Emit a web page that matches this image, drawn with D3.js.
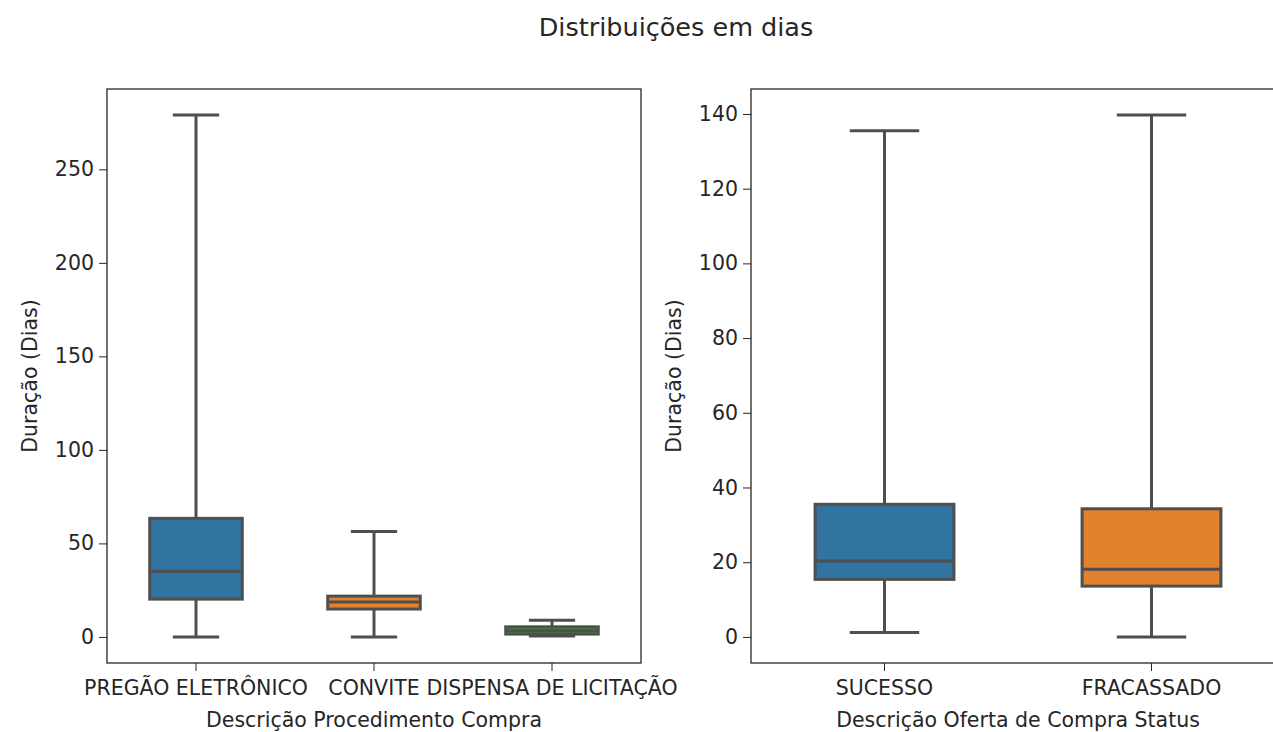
<!DOCTYPE html>
<html>
<head>
<meta charset="utf-8">
<script src="https://cdn.jsdelivr.net/npm/d3@7"></script>
<style>
  body { margin: 0; background: #fff; }
  text { font-family: "DejaVu Sans", sans-serif; fill: #262626; }
</style>
</head>
<body>
<div id="chart"></div>
<script>
var width = 1273;
var height = 732;

// Left panel data: procedimento de compra
var procCategories = ["PREGÃO ELETRÔNICO", "CONVITE", "DISPENSA DE LICITAÇÃO"];
var procMin = [0, 0, 0.5];
var procQ1 = [20.2, 14.9, 1.5];
var procMedian = [35.1, 18.6, 3.3];
var procQ3 = [63.4, 21.8, 5.4];
var procMax = [279, 56.4, 8.9];
var procColors = ["#3274a1", "#e1812c", "#3a923a"];
var procTicks = [0, 50, 100, 150, 200, 250];

// Right panel data: status da oferta
var statusCategories = ["SUCESSO", "FRACASSADO"];
var statusMin = [1.2, 0];
var statusQ1 = [15.4, 13.6];
var statusMedian = [20.3, 18.1];
var statusQ3 = [35.5, 34.3];
var statusMax = [135.5, 139.7];
var statusColors = ["#3274a1", "#e1812c"];
var statusTicks = [0, 20, 40, 60, 80, 100, 120, 140];

var lineColor = "#4f4f4f";
var fontSize = 20.5;

//Instantiate the container
var svg = d3.select("#chart")
    .append("svg")
    .attr("width", width)
    .attr("height", height);

//Title
svg.append("text")
    .attr("x", 676)
    .attr("y", 36)
    .attr("text-anchor", "middle")
    .attr("font-size", 25.5)
    .text("Distribuições em dias");

function drawPanel(opt) {
    var g = svg.append("g");

    var lo = d3.min(opt.min), hi = d3.max(opt.max);
    var pad = (hi - lo) * 0.05;

    var x = d3.scaleBand()
        .domain(opt.categories)
        .range([opt.left, opt.right]);

    var y = d3.scaleLinear()
        .domain([lo - pad, hi + pad])
        .range([opt.bottom, opt.top]);

    var boxW = x.bandwidth() * 0.52;
    var capW = boxW * 0.5;

    for (var i = 0; i < opt.categories.length; i++) {
        var cx = x(opt.categories[i]) + x.bandwidth() / 2;

        //whiskers
        g.append("line")
            .attr("x1", cx).attr("x2", cx)
            .attr("y1", y(opt.q3[i])).attr("y2", y(opt.max[i]))
            .attr("stroke", lineColor).attr("stroke-width", 3);
        g.append("line")
            .attr("x1", cx).attr("x2", cx)
            .attr("y1", y(opt.q1[i])).attr("y2", y(opt.min[i]))
            .attr("stroke", lineColor).attr("stroke-width", 3);

        //caps
        g.append("line")
            .attr("x1", cx - capW / 2).attr("x2", cx + capW / 2)
            .attr("y1", y(opt.max[i])).attr("y2", y(opt.max[i]))
            .attr("stroke", lineColor).attr("stroke-width", 3);
        g.append("line")
            .attr("x1", cx - capW / 2).attr("x2", cx + capW / 2)
            .attr("y1", y(opt.min[i])).attr("y2", y(opt.min[i]))
            .attr("stroke", lineColor).attr("stroke-width", 3);

        //box
        g.append("rect")
            .attr("x", cx - boxW / 2)
            .attr("y", y(opt.q3[i]))
            .attr("width", boxW)
            .attr("height", y(opt.q1[i]) - y(opt.q3[i]))
            .attr("fill", opt.colors[i])
            .attr("stroke", lineColor)
            .attr("stroke-width", 3);

        //median
        g.append("line")
            .attr("x1", cx - boxW / 2).attr("x2", cx + boxW / 2)
            .attr("y1", y(opt.median[i])).attr("y2", y(opt.median[i]))
            .attr("stroke", lineColor).attr("stroke-width", 3);
    }

    //y axis
    var yAxis = g.append("g")
        .attr("transform", "translate(" + opt.left + ",0)")
        .call(d3.axisLeft(y).tickValues(opt.ticks).tickSize(8).tickPadding(5));
    yAxis.select(".domain").remove();
    yAxis.selectAll("text").attr("font-size", fontSize).attr("fill", "#262626")
        .style("font-family", "DejaVu Sans, sans-serif");
    yAxis.selectAll("line").attr("stroke", "#262626");

    //x axis
    var xAxis = g.append("g")
        .attr("transform", "translate(0," + opt.bottom + ")")
        .call(d3.axisBottom(x).tickSize(8).tickPadding(9));
    xAxis.select(".domain").remove();
    xAxis.selectAll("text").attr("font-size", fontSize).attr("fill", "#262626")
        .style("font-family", "DejaVu Sans, sans-serif");
    xAxis.selectAll("line").attr("stroke", "#262626");

    //frame
    g.append("rect")
        .attr("x", opt.left)
        .attr("y", opt.top)
        .attr("width", opt.right - opt.left)
        .attr("height", opt.bottom - opt.top)
        .attr("fill", "none")
        .attr("stroke", "#262626")
        .attr("stroke-width", 1.3);

    //axis labels
    g.append("text")
        .attr("x", (opt.left + opt.right) / 2)
        .attr("y", 727)
        .attr("text-anchor", "middle")
        .attr("font-size", fontSize)
        .text(opt.xLabel);

    g.append("text")
        .attr("transform", "translate(" + opt.yLabelX + "," + (opt.top + opt.bottom) / 2 + ") rotate(-90)")
        .attr("text-anchor", "middle")
        .attr("font-size", fontSize)
        .text("Duração (Dias)");
}

drawPanel({
    categories: procCategories,
    min: procMin, q1: procQ1, median: procMedian, q3: procQ3, max: procMax,
    colors: procColors, ticks: procTicks,
    left: 107, right: 641, top: 89, bottom: 663,
    xLabel: "Descrição Procedimento Compra",
    yLabelX: 37
});

drawPanel({
    categories: statusCategories,
    min: statusMin, q1: statusQ1, median: statusMedian, q3: statusQ3, max: statusMax,
    colors: statusColors, ticks: statusTicks,
    left: 751, right: 1285, top: 89, bottom: 663,
    xLabel: "Descrição Oferta de Compra Status",
    yLabelX: 681
});
</script>
</body>
</html>
